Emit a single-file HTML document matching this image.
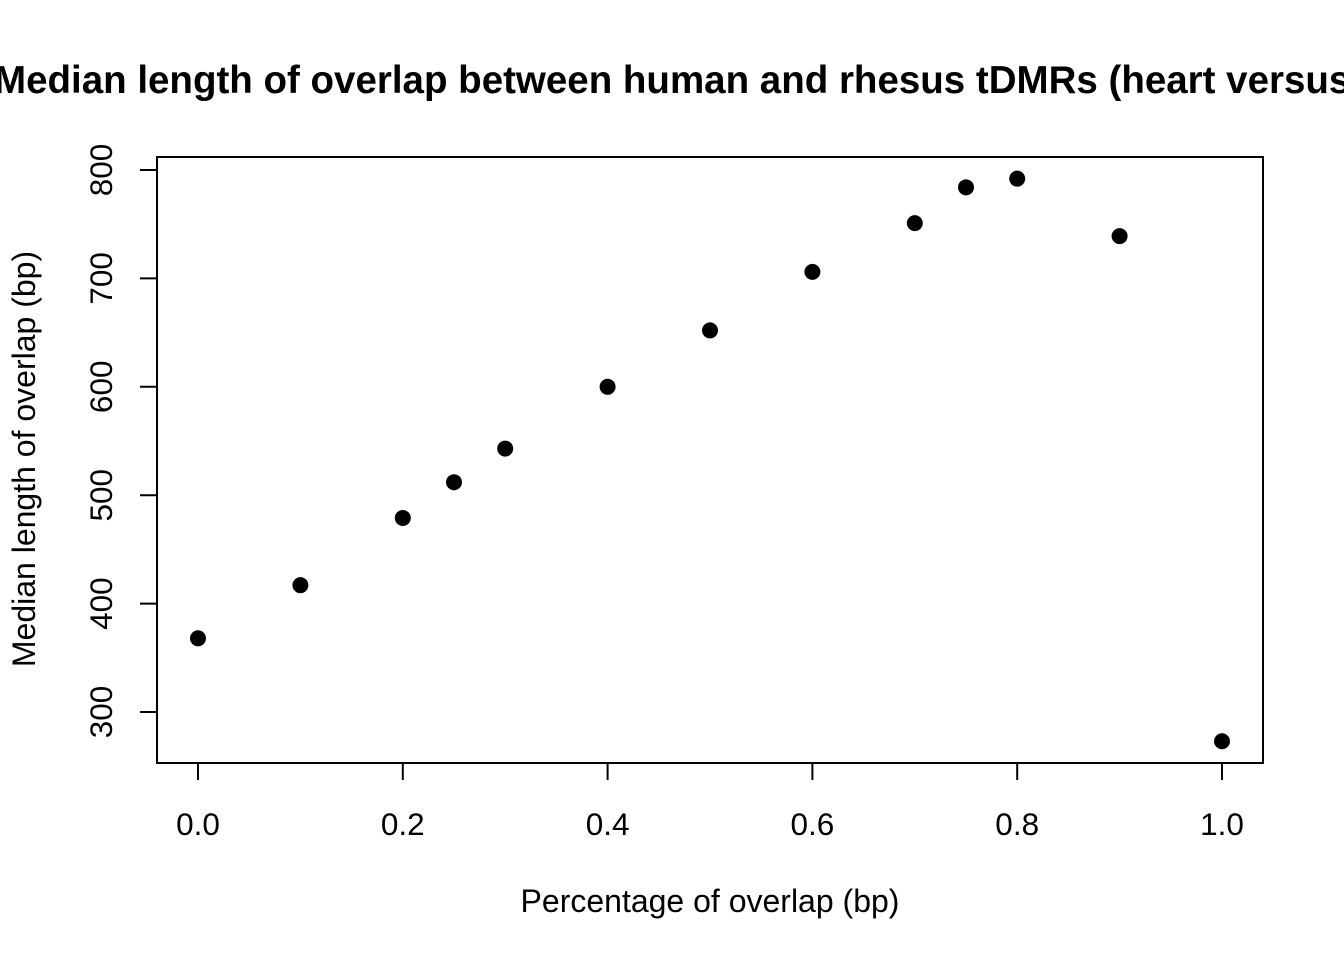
<!DOCTYPE html>
<html><head><meta charset="utf-8"><style>
html,body{margin:0;padding:0;background:#fff;}
svg{display:block;font-family:"Liberation Sans",Arial,sans-serif;}
</style></head><body>
<svg id="chart" width="1344" height="960" viewBox="0 0 1344 960">
<text x="-6" y="93" text-anchor="start" font-size="38.5" font-weight="bold">Median length of overlap between human and rhesus tDMRs (heart versus liver)</text>
<rect x="157" y="157" width="1106" height="606" fill="none" stroke="#000" stroke-width="2"/>
<g id="xaxis"></g>
<g id="yaxis"></g>
<g id="points"></g>
<text x="710" y="912" text-anchor="middle" font-size="32">Percentage of overlap (bp)</text>
<text transform="translate(35,459) rotate(-90)" text-anchor="middle" font-size="32">Median length of overlap (bp)</text>
</svg>
<script>
const xValues = [0, 0.1, 0.2, 0.25, 0.3, 0.4, 0.5, 0.6, 0.7, 0.75, 0.8, 0.9, 1.0];
const yValues = [368, 417, 479, 512, 543, 600, 652, 706, 751, 784, 792, 739, 273];
const xTicks = [0, 0.2, 0.4, 0.6, 0.8, 1.0];
const xTickLabels = ["0.0", "0.2", "0.4", "0.6", "0.8", "1.0"];
const yTicks = [300, 400, 500, 600, 700, 800];
const yTickLabels = ["300", "400", "500", "600", "700", "800"];
const NS = "http://www.w3.org/2000/svg";
function sx(v){return 198 + v*1024;}
function sy(v){return 170 + (800 - v)*1.084;}
function mk(tag, attrs, parent){const e=document.createElementNS(NS,tag);for(const k in attrs)e.setAttribute(k,attrs[k]);parent.appendChild(e);return e;}
const xa=document.getElementById('xaxis'), ya=document.getElementById('yaxis'), pts=document.getElementById('points');
mk('line',{x1:sx(xTicks[0]),x2:sx(xTicks[xTicks.length-1]),y1:763,y2:763,stroke:'#000','stroke-width':2},xa);
xTicks.forEach((t,i)=>{
  const l=mk('line',{x1:sx(t),x2:sx(t),y1:763,y2:780,stroke:'#000','stroke-width':2},xa);
  
  
  const tx=mk('text',{x:sx(t),y:835,'text-anchor':'middle','font-size':31.5},xa);
  tx.textContent=xTickLabels[i];
  
  
});
yTicks.forEach((t,i)=>{
  const l=mk('line',{x1:140,x2:157,y1:sy(t),y2:sy(t),stroke:'#000','stroke-width':2},ya);
  
  
  const tx=mk('text',{transform:`translate(112,${sy(t)}) rotate(-90)`,'text-anchor':'middle','font-size':31.5},ya);
  tx.textContent=yTickLabels[i];
  
  
});
xValues.forEach((x,i)=>{
  const c=mk('circle',{cx:sx(x),cy:sy(yValues[i]),r:8,fill:'#000'},pts);
  
  
});
</script>
</body></html>
